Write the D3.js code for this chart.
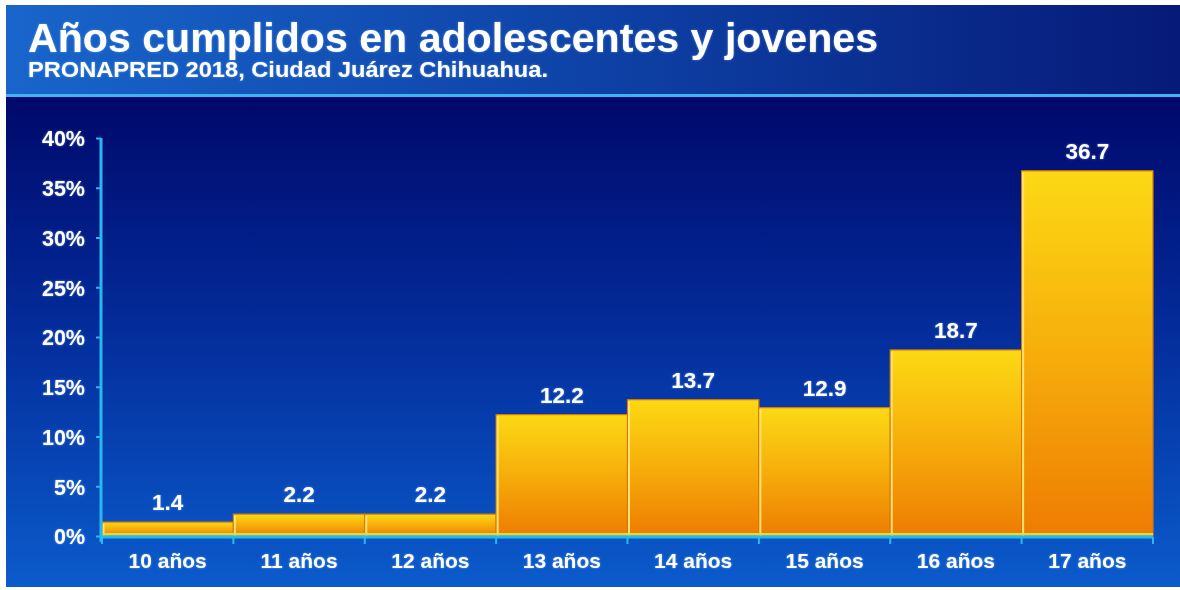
<!DOCTYPE html>
<html>
<head>
<meta charset="utf-8">
<script src="https://cdn.jsdelivr.net/npm/d3@7"></script>
<style>
  html, body { margin: 0; padding: 0; background: #ffffff; }
  svg { display: block; }
  text { font-family: "Liberation Sans", Arial, sans-serif; font-weight: bold; fill: #ffffff; }
</style>
</head>
<body>
<svg id="chart" width="1180" height="590"></svg>
<script>
// Edad cumplida y porcentaje de adolescentes y jóvenes
const categories = ["10 años", "11 años", "12 años", "13 años", "14 años", "15 años", "16 años", "17 años"];
const values = [1.4, 2.2, 2.2, 12.2, 13.7, 12.9, 18.7, 36.7];
const yTicks = [0, 5, 10, 15, 20, 25, 30, 35, 40];
const titleText = "Años cumplidos en adolescentes y jovenes";
const subtitleText = "PRONAPRED 2018, Ciudad Juárez Chihuahua.";

const svg = d3.select("#chart");
const W = 1180, H = 590;
const panel = { x: 6, y: 5, w: W - 6, h: 582 };
const headerH = 90;
const margin = { left: 101, right: 27, top: 138, bottom: 54 };

const defs = svg.append("defs");

// header gradient: brighter blue on the left, deep navy on the right
const hg = defs.append("linearGradient").attr("id", "hdr").attr("x1", 0).attr("x2", 1).attr("y1", 0).attr("y2", 0);
hg.append("stop").attr("offset", 0).attr("stop-color", "#1865cb");
hg.append("stop").attr("offset", 0.55).attr("stop-color", "#0d3ea2");
hg.append("stop").attr("offset", 1).attr("stop-color", "#061a78");

// plot background: navy at the top to vivid blue at the bottom
const bg = defs.append("linearGradient").attr("id", "bg").attr("x1", 0).attr("x2", 0).attr("y1", 0).attr("y2", 1);
bg.append("stop").attr("offset", 0).attr("stop-color", "#00086a");
bg.append("stop").attr("offset", 0.45).attr("stop-color", "#032a98");
bg.append("stop").attr("offset", 1).attr("stop-color", "#0b5bcc");

// bar fill: golden yellow at the top fading to orange at the base
const bf = defs.append("linearGradient").attr("id", "bar").attr("x1", 0).attr("x2", 0).attr("y1", 0).attr("y2", 1);
bf.append("stop").attr("offset", 0).attr("stop-color", "#fcd914");
bf.append("stop").attr("offset", 0.45).attr("stop-color", "#f7b20c");
bf.append("stop").attr("offset", 1).attr("stop-color", "#ee7c02");

// soft light-blue halo around text
const glow = defs.append("filter").attr("id", "glow").attr("x", "-10%").attr("y", "-30%").attr("width", "120%").attr("height", "160%");
glow.append("feGaussianBlur").attr("in", "SourceAlpha").attr("stdDeviation", 1.2).attr("result", "b");
glow.append("feFlood").attr("flood-color", "#8fc8ff").attr("flood-opacity", 0.55);
glow.append("feComposite").attr("in2", "b").attr("operator", "in").attr("result", "g");
const gm = glow.append("feMerge");
gm.append("feMergeNode").attr("in", "g");
gm.append("feMergeNode").attr("in", "SourceGraphic");

// panels
svg.append("rect").attr("x", panel.x).attr("y", panel.y).attr("width", panel.w).attr("height", headerH).attr("fill", "url(#hdr)");
svg.append("rect").attr("x", panel.x).attr("y", panel.y + headerH).attr("width", panel.w).attr("height", panel.h - headerH).attr("fill", "url(#bg)");
svg.append("rect").attr("x", panel.x).attr("y", panel.y + headerH - 1).attr("width", panel.w).attr("height", 3).attr("fill", "#3fb4f2");

// titles
svg.append("text").attr("x", 28).attr("y", 52).attr("font-size", 40)
  .attr("textLength", 850).attr("lengthAdjust", "spacingAndGlyphs")
  .attr("filter", "url(#glow)").text(titleText);
svg.append("text").attr("x", 28).attr("y", 77).attr("font-size", 21.5)
  .attr("textLength", 520).attr("lengthAdjust", "spacingAndGlyphs")
  .attr("filter", "url(#glow)").text(subtitleText);

// scales
const x = d3.scaleBand().domain(categories).range([margin.left + 1, W - margin.right]).padding(0);
const y = d3.scaleLinear().domain([0, 40]).range([H - margin.bottom, margin.top]);
const y0 = y(0);

// bars
const bars = svg.append("g");
bars.selectAll("rect.bar").data(values).join("rect")
  .attr("class", "bar")
  .attr("x", (d, i) => x(categories[i]))
  .attr("y", d => y(d))
  .attr("width", x.bandwidth())
  .attr("height", d => y0 - y(d))
  .attr("fill", "url(#bar)")
  .attr("stroke", "#d77a06")
  .attr("stroke-width", 1.2);
// pale highlight on each bar's left edge
bars.selectAll("line.hl").data(values).join("line")
  .attr("class", "hl")
  .attr("x1", (d, i) => x(categories[i]) + 1.5)
  .attr("x2", (d, i) => x(categories[i]) + 1.5)
  .attr("y1", d => y(d) + 1.5)
  .attr("y2", y0)
  .attr("stroke", "#ffe270")
  .attr("stroke-width", 2);
// yellow-green glint at the base of the bars
svg.append("rect").attr("x", x.range()[0]).attr("y", y0 - 3).attr("width", x.range()[1] - x.range()[0]).attr("height", 2.5).attr("fill", "#cfe04a");

// value labels
svg.append("g").selectAll("text").data(values).join("text")
  .attr("x", (d, i) => x(categories[i]) + x.bandwidth() / 2)
  .attr("y", d => y(d) - 12)
  .attr("text-anchor", "middle")
  .attr("font-size", 22.5)
  .attr("filter", "url(#glow)")
  .text(d => d.toFixed(1));

// axes
const axisColor = "#28b8f0";
const yAxis = svg.append("g").attr("transform", `translate(${margin.left},0)`)
  .call(d3.axisLeft(y).tickValues(yTicks).tickSize(5).tickPadding(11).tickFormat(d => d + "%"));
yAxis.select(".domain").attr("stroke", axisColor).attr("stroke-width", 3).attr("d", `M0,${y(40)}V${y0 + 6}`);
yAxis.selectAll(".tick line").attr("stroke", axisColor).attr("stroke-width", 2);
yAxis.selectAll(".tick text").attr("font-size", 21.5).attr("fill", "#ffffff").attr("filter", "url(#glow)").attr("dy", "0.36em");

const xAxis = svg.append("g").attr("transform", `translate(0,${y0})`);
xAxis.append("line").attr("x1", margin.left - 1).attr("x2", W - margin.right).attr("y1", 1).attr("y2", 1)
  .attr("stroke", axisColor).attr("stroke-width", 3);
const bounds = categories.map(c => x(c)).concat([x.range()[1]]);
xAxis.selectAll("line.tk").data(bounds).join("line")
  .attr("class", "tk")
  .attr("x1", d => d).attr("x2", d => d).attr("y1", 1).attr("y2", 8)
  .attr("stroke", axisColor).attr("stroke-width", 2);
xAxis.selectAll("text").data(categories).join("text")
  .attr("x", c => x(c) + x.bandwidth() / 2)
  .attr("y", 32)
  .attr("text-anchor", "middle")
  .attr("font-size", 21)
  .attr("filter", "url(#glow)")
  .text(c => c);
</script>
</body>
</html>
